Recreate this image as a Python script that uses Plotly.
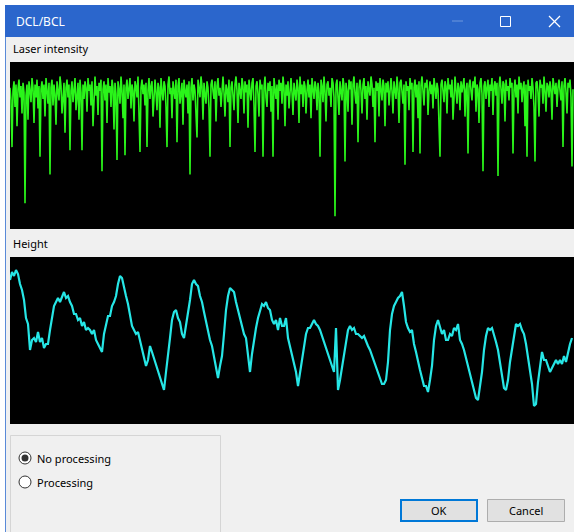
import numpy as np
import plotly.graph_objects as go

W, H = 574, 532

# ---- data ----
laser_intensity = [
    86, 78, 49, 84, 90, 74, 88, 62, 85, 91, 80, 87, 70, 89, 83, 14, 81, 88, 66, 90,
    84, 77, 92, 86, 64, 88, 80, 91, 73, 87, 43, 85, 90, 79, 88, 68, 92, 83, 76, 89,
    32, 86, 91, 75, 88, 82, 63, 90, 85, 78, 93, 87, 70, 84, 89, 58, 86, 91, 80, 88,
    47, 84, 90, 77, 87, 92, 72, 85, 89, 66, 91, 83, 47, 88, 79, 90, 86, 71, 92, 84,
    88, 75, 90, 62, 86, 93, 81, 87, 69, 89, 84, 91, 34, 85, 90, 78, 88, 64, 92, 83,
    87, 74, 91, 86, 60, 89, 82, 41, 90, 85, 76, 93, 84, 67, 88, 44, 86, 91, 79, 87,
    92, 73, 88, 84, 65, 90, 87, 80, 93, 70, 46, 86, 91, 82, 88, 75, 89, 49, 84, 92,
    79, 87, 90, 68, 85, 91, 83, 72, 89, 86, 61, 92, 84, 78, 90, 87, 74, 49, 88, 93,
    82, 86, 67, 90, 84, 79, 91, 52, 87, 92, 76, 85, 89, 63, 91, 84, 80, 88, 70, 90,
    32, 86, 92, 78, 88, 84, 69, 55, 91, 85, 80, 93, 87, 66, 89, 82, 76, 90, 86, 73,
    43, 88, 91, 84, 79, 90, 65, 87, 92, 81, 86, 74, 89, 93, 83, 68, 88, 85, 77, 91,
    49, 86, 90, 82, 72, 88, 93, 84, 64, 89, 85, 79, 92, 87, 70, 90, 83, 88, 61, 91,
    84, 78, 89, 92, 75, 46, 87, 90, 82, 68, 91, 85, 88, 43, 86, 93, 80, 74, 89, 84,
    90, 71, 87, 43, 92, 85, 79, 88, 66, 91, 84, 89, 76, 93, 86, 62, 88, 81, 90, 73,
    87, 92, 83, 69, 89, 85, 78, 91, 86, 64, 93, 82, 88, 74, 90, 87, 70, 84, 91, 80,
    88, 67, 92, 85, 79, 90, 86, 72, 89, 83, 43, 91, 87, 77, 93, 84, 65, 88, 90, 81,
    86, 74, 92, 89, 80, 6, 88, 91, 83, 69, 90, 85, 78, 92, 87, 40, 89, 84, 71, 91,
    85, 90, 63, 88, 93, 82, 76, 89, 52, 86, 91, 84, 70, 88, 92, 79, 87, 66, 90, 85,
    81, 93, 88, 74, 86, 52, 90, 84, 89, 68, 92, 85, 78, 91, 87, 62, 89, 83, 90, 75,
    88, 92, 84, 70, 90, 86, 79, 93, 85, 64, 89, 91, 82, 76, 88, 38, 90, 84, 87, 72,
    92, 85, 89, 46, 86, 91, 80, 88, 67, 90, 45, 87, 93, 83, 75, 89, 86, 91, 69, 84,
    90, 82, 88, 73, 92, 86, 79, 89, 85, 63, 43, 88, 91, 84, 77, 90, 87, 70, 92, 85,
    88, 80, 91, 66, 87, 93, 84, 76, 89, 86, 72, 90, 83, 88, 92, 68, 85, 89, 45, 87,
    91, 84, 78, 90, 86, 93, 71, 88, 85, 64, 89, 92, 82, 34, 87, 90, 79, 86, 91, 74,
    88, 84, 92, 69, 87, 90, 81, 89, 31, 86, 93, 85, 76, 90, 88, 65, 91, 84, 87, 78,
    92, 86, 89, 45, 84, 91, 80, 88, 70, 93, 85, 89, 77, 86, 90, 62, 88, 43, 91, 84,
    87, 79, 92, 86, 74, 40, 89, 90, 83, 68, 91, 86, 88, 76, 93, 84, 71, 89, 87, 80,
    90, 85, 66, 92, 88, 82, 89, 74, 86, 91, 84, 78, 90, 49, 87, 92, 83, 70, 89, 86,
    91, 80, 37, 85,
]

height = [
    144, 152, 148, 154, 150, 140, 134, 124, 106, 100,
    74, 84, 86, 82, 92, 82, 86, 76, 80, 80,
    94, 108, 118, 122, 126, 122, 128, 132, 126, 128,
    122, 118, 110, 110, 104, 106, 98, 102, 94, 96,
    94, 90, 94, 84, 80, 76, 72, 90, 98, 108,
    108, 118, 122, 128, 140, 148, 146, 136, 128, 120,
    108, 98, 94, 90, 92, 84, 74, 66, 58, 64,
    78, 72, 66, 60, 54, 48, 40, 34, 52, 72,
    86, 104, 112, 114, 106, 102, 90, 86, 98, 112,
    124, 140, 144, 140, 138, 128, 122, 112, 102, 94,
    84, 78, 68, 56, 46, 58, 68, 90, 114, 128,
    136, 134, 132, 122, 114, 104, 98, 90, 86, 68,
    52, 70, 86, 96, 106, 114, 120, 118, 122, 116,
    114, 104, 100, 104, 94, 106, 98, 98, 106, 86,
    78, 68, 60, 52, 38, 52, 64, 80, 90, 96,
    96, 100, 104, 100, 98, 94, 88, 84, 78, 72,
    66, 60, 52, 96, 34, 44, 56, 70, 84, 94,
    98, 94, 96, 90, 90, 88, 86, 88, 82, 78,
    74, 68, 62, 58, 50, 44, 40, 40, 44, 62,
    94, 110, 118, 122, 126, 128, 132, 118, 102, 96,
    92, 94, 80, 72, 62, 54, 46, 38, 38, 32,
    44, 58, 84, 98, 104, 98, 90, 94, 84, 84,
    90, 88, 96, 94, 100, 84, 80, 74, 66, 58,
    48, 40, 32, 26, 24, 38, 52, 74, 88, 96,
    94, 96, 90, 82, 74, 62, 52, 36, 34, 44,
    62, 74, 90, 100, 98, 100, 94, 90, 80, 68,
    54, 40, 18, 20, 42, 60, 72, 64, 64, 58,
    52, 56, 60, 64, 60, 64, 60, 68, 62, 72,
    80, 86,
]

panel_labels = ["Laser intensity", "Height"]
options = ["No processing", "Processing"]
buttons = ["OK", "Cancel"]
window_title = "DCL/BCL"

# ---- helpers: pixel position -> paper fraction (layout only) ----
def px(x):
    return x / W

def py(y):
    return 1 - y / H

FONT = "Noto Sans"
GREEN = "#2af51a"
CYAN = "#26e6e6"
BLUE = "#2b66cc"

fig = go.Figure()

fig.add_trace(go.Scatter(
    x=np.arange(len(laser_intensity)), y=laser_intensity,
    mode="lines", line=dict(color=GREEN, width=1.6),
    xaxis="x", yaxis="y", hoverinfo="skip", showlegend=False,
))
fig.add_trace(go.Scatter(
    x=np.arange(len(height)), y=height,
    mode="lines", line=dict(color=CYAN, width=2.2),
    xaxis="x2", yaxis="y2", hoverinfo="skip", showlegend=False,
))

ax_common = dict(showgrid=False, zeroline=False, showticklabels=False,
                 ticks="", showline=False, fixedrange=True)

fig.update_layout(
    width=W, height=H,
    margin=dict(l=0, r=0, t=0, b=0),
    paper_bgcolor="#f0f0f0",
    plot_bgcolor="#000000",
    showlegend=False,
    xaxis=dict(domain=[px(10), 1.0], range=[0, 564], anchor="y", **ax_common),
    yaxis=dict(domain=[py(229), py(62)], range=[-2, 102], anchor="x", **ax_common),
    xaxis2=dict(domain=[px(10), 1.0], range=[0, 282], anchor="y2", **ax_common),
    yaxis2=dict(domain=[py(424), py(257)], range=[0, 167], anchor="x2", **ax_common),
)

shapes = []
# white strips outside the window
shapes.append(dict(type="rect", xref="paper", yref="paper", x0=0, x1=1, y0=py(5), y1=1,
                   fillcolor="#ffffff", line=dict(width=0), layer="below"))
shapes.append(dict(type="rect", xref="paper", yref="paper", x0=0, x1=px(5), y0=0, y1=1,
                   fillcolor="#ffffff", line=dict(width=0), layer="below"))
# window left border
shapes.append(dict(type="rect", xref="paper", yref="paper", x0=px(5), x1=px(6), y0=0, y1=py(5),
                   fillcolor="#5a8ad8", line=dict(width=0), layer="below"))
# title bar
shapes.append(dict(type="rect", xref="paper", yref="paper", x0=px(5), x1=1, y0=py(37), y1=py(5),
                   fillcolor=BLUE, line=dict(width=0), layer="below"))
# minimize (disabled)
shapes.append(dict(type="line", xref="paper", yref="paper", x0=px(452), x1=px(463), y0=py(21), y1=py(21),
                   line=dict(color="#6f97dc", width=1)))
# maximize
shapes.append(dict(type="rect", xref="paper", yref="paper", x0=px(500.5), x1=px(510.5), y0=py(26.5), y1=py(16.5),
                   line=dict(color="#ffffff", width=1)))
# close
shapes.append(dict(type="line", xref="paper", yref="paper", x0=px(549), x1=px(560), y0=py(16), y1=py(27),
                   line=dict(color="#ffffff", width=1.3)))
shapes.append(dict(type="line", xref="paper", yref="paper", x0=px(549), x1=px(560), y0=py(27), y1=py(16),
                   line=dict(color="#ffffff", width=1.3)))
# group box
shapes.append(dict(type="rect", xref="paper", yref="paper", x0=px(10.5), x1=px(220.5), y0=py(540), y1=py(435.5),
                   line=dict(color="#d5d5d5", width=1)))
# radio buttons
for i, cy in enumerate([458, 482]):
    shapes.append(dict(type="circle", xref="paper", yref="paper",
                       x0=px(19), x1=px(31), y0=py(cy + 6), y1=py(cy - 6),
                       fillcolor="#ffffff", line=dict(color="#333333", width=1)))
    if i == 0:
        shapes.append(dict(type="circle", xref="paper", yref="paper",
                           x0=px(21.5), x1=px(28.5), y0=py(cy + 3.5), y1=py(cy - 3.5),
                           fillcolor="#333333", line=dict(width=0)))
# buttons
shapes.append(dict(type="rect", xref="paper", yref="paper", x0=px(401), x1=px(477), y0=py(521), y1=py(500),
                   fillcolor="#e1e1e1", line=dict(color="#0078d7", width=2)))
shapes.append(dict(type="rect", xref="paper", yref="paper", x0=px(487.5), x1=px(564.5), y0=py(521.5), y1=py(499.5),
                   fillcolor="#e1e1e1", line=dict(color="#adadad", width=1)))

fig.update_layout(shapes=shapes)

ann = []
ann.append(dict(text=window_title, x=px(14), y=py(22), xanchor="left", yanchor="middle",
                font=dict(family=FONT, size=12, color="#ffffff")))
ann.append(dict(text=panel_labels[0], x=px(11), y=py(49), xanchor="left", yanchor="middle",
                font=dict(family=FONT, size=11, color="#000000")))
ann.append(dict(text=panel_labels[1], x=px(11), y=py(243), xanchor="left", yanchor="middle",
                font=dict(family=FONT, size=11, color="#000000")))
for t, cy in zip(options, [458, 482]):
    ann.append(dict(text=t, x=px(35), y=py(cy), xanchor="left", yanchor="middle",
                    font=dict(family=FONT, size=11, color="#000000")))
ann.append(dict(text=buttons[0], x=px(439), y=py(510.5), xanchor="center", yanchor="middle",
                font=dict(family=FONT, size=11, color="#000000")))
ann.append(dict(text=buttons[1], x=px(526), y=py(510.5), xanchor="center", yanchor="middle",
                font=dict(family=FONT, size=11, color="#000000")))
for a in ann:
    a.update(xref="paper", yref="paper", showarrow=False)
fig.update_layout(annotations=ann)

fig.write_html(
    "out.html",
    config={"displayModeBar": False, "staticPlot": True},
    post_script="document.body.style.margin='0px';document.body.style.padding='0px';document.body.style.overflow='hidden';",
)
